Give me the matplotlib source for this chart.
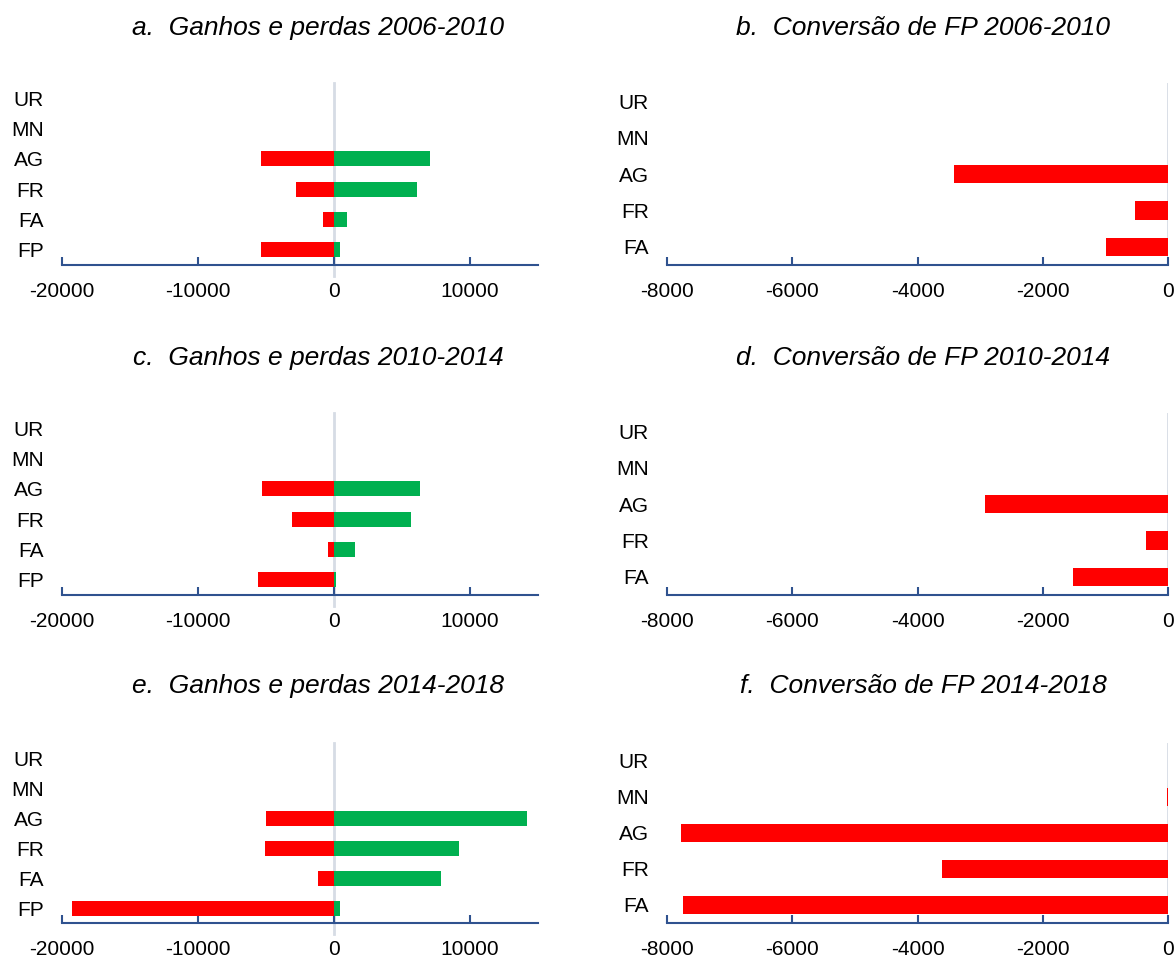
import matplotlib
matplotlib.use("Agg")
from matplotlib import pyplot as plt

plt.rcParams['font.family'] = ['Liberation Sans', 'DejaVu Sans']
plt.rcParams['axes.unicode_minus'] = False

# categories, top to bottom
cats_left = ['UR', 'MN', 'AG', 'FR', 'FA', 'FP']
cats_right = ['UR', 'MN', 'AG', 'FR', 'FA']

# gains and losses (left column)
a_loss = [0, 0, -5370, -2800, -800, -5370]
a_gain = [0, 15, 7060, 6100, 950, 450]
c_loss = [0, 0, -5300, -3090, -440, -5590]
c_gain = [0, 15, 6320, 5660, 1540, 120]
e_loss = [0, 0, -5000, -5070, -1180, -19260]
e_gain = [0, 15, 14190, 9190, 7870, 450]

# FP conversion (right column)
b_conv = [0, 0, -3410, -530, -990]
d_conv = [0, 0, -2920, -350, -1520]
f_conv = [0, -15, -7770, -3610, -7740]

titles_left = ['a.  Ganhos e perdas 2006-2010', 'c.  Ganhos e perdas 2010-2014',
               'e.  Ganhos e perdas 2014-2018']
titles_right = ['b.  Conversão de FP 2006-2010', 'd.  Conversão de FP 2010-2014',
                'f.  Conversão de FP 2014-2018']

RED = '#FF0000'
GREEN = '#00B050'
AXCOL = '#2F528F'
ZEROCOL = '#D6DCE5'

W, H = 1175, 957
fig = plt.figure(figsize=(W / 100, H / 100), dpi=100)

rows = [(83, 265), (413, 595), (743, 923)]
title_y = [28, 358, 686]


def style(ax, cats):
    ax.set_yticks(range(len(cats)))
    ax.set_yticklabels(cats)
    ax.set_ylim(len(cats) - 0.5, -0.5)
    for s in ['top', 'right', 'left']:
        ax.spines[s].set_visible(False)
    ax.spines['bottom'].set_color(AXCOL)
    ax.spines['bottom'].set_linewidth(1.5)
    ax.tick_params(axis='y', length=0, pad=13, labelsize=15)
    ax.tick_params(axis='x', direction='in', length=6, width=1.5, color=AXCOL,
                   pad=12, labelsize=15)


left_data = [(a_loss, a_gain), (c_loss, c_gain), (e_loss, e_gain)]
right_data = [b_conv, d_conv, f_conv]

for i, (top, bot) in enumerate(rows):
    y0 = 1 - bot / H
    h = (bot - top) / H

    ax = fig.add_axes([62 / W, y0, 476 / W, h])
    loss, gain = left_data[i]
    pos = range(len(cats_left))
    ax.axvline(0, color=ZEROCOL, lw=2, zorder=0, ymin=-0.06, clip_on=False)
    ax.barh(pos, loss, height=0.5, color=RED, zorder=2)
    ax.barh(pos, gain, height=0.5, color=GREEN, zorder=2)
    ax.set_xlim(-20000, 15000)
    ax.set_xticks([-20000, -10000, 0, 10000])
    style(ax, cats_left)
    fig.text(318 / W, 1 - title_y[i] / H, titles_left[i], ha='center', va='center',
             fontsize=19, style='italic')

    ax2 = fig.add_axes([667 / W, y0, 501 / W, h])
    pos = range(len(cats_right))
    ax2.axvline(0, color=ZEROCOL, lw=2, zorder=0)
    ax2.barh(pos, right_data[i], height=0.5, color=RED, zorder=2)
    ax2.set_xlim(-8000, 0)
    ax2.set_xticks([-8000, -6000, -4000, -2000, 0])
    style(ax2, cats_right)
    fig.text(923 / W, 1 - title_y[i] / H, titles_right[i], ha='center', va='center',
             fontsize=19, style='italic')

plt.savefig('out.png', dpi=100)
